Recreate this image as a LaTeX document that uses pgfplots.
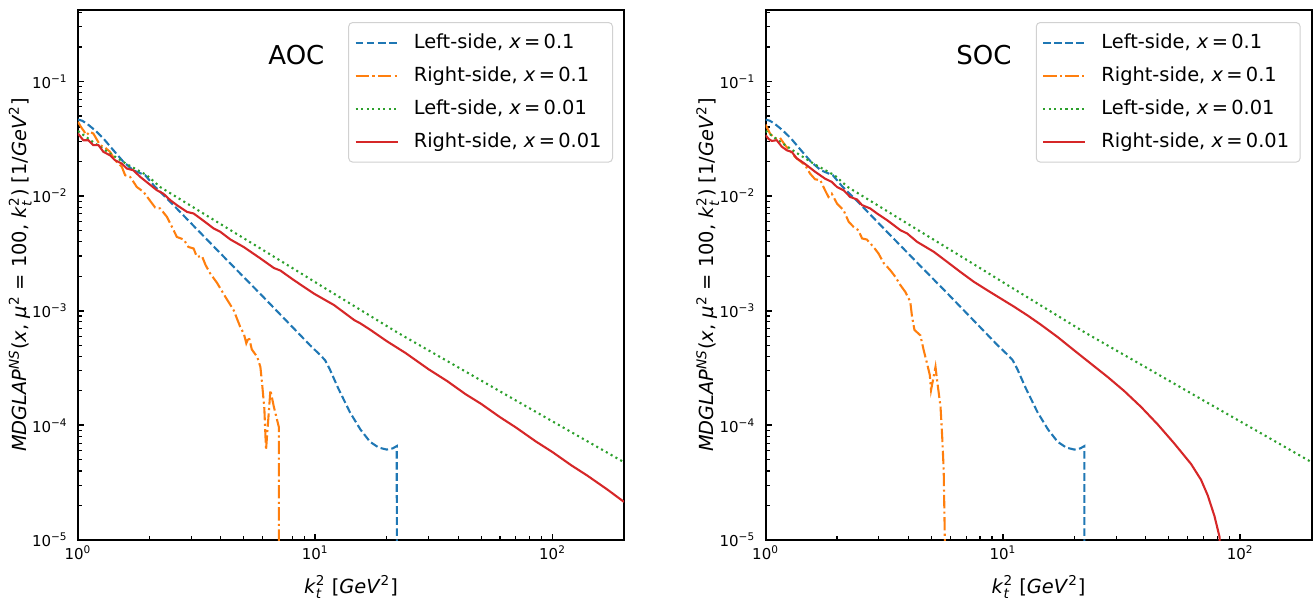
\documentclass[border=0pt]{standalone}
\usepackage{fontspec}
\setmainfont{DejaVu Sans}
\usepackage{amsmath}
\usepackage{pgfplots}
\usepackage{pgfplotstable}
\pgfplotsset{compat=1.18}

\definecolor{c0}{HTML}{1F77B4}
\definecolor{c1}{HTML}{FF7F0E}
\definecolor{c2}{HTML}{2CA02C}
\definecolor{c3}{HTML}{D62728}

% left-side, x=0.1 (same in both panels)
\pgfplotstableread{
x y
1.0 0.0465
1.04 0.0455
1.088 0.043
1.18 0.0375
1.28 0.0318
1.41 0.0251
1.554 0.0199
1.71 0.0168
1.92 0.0152
2.1 0.0122
2.45 0.0089
3.07 0.0055
4.25 0.00276
5.87 0.0014
8.12 0.0007
9.5 0.0005
10.5 0.00041
11.0 0.00037
11.5 0.00031
12.5 0.00021
14.0 0.00013
15.5 0.000092
17.0 0.000072
18.5 0.000064
20.0 0.0000615
21.2 0.000063
22.05 0.000066
22.06 0.000001
}\leftA

% left-side, x=0.01 (same in both panels)
\pgfplotstableread{
x y
1.0 0.037
1.16 0.0295
1.365 0.0235
1.606 0.019
1.95 0.0152
2.22 0.012
3.0 0.00819
4.25 0.00526
6.0 0.0034
8.0 0.00236
10.53 0.00166
15.0 0.00106
22.2 0.000645
40 0.000321
70 0.000165
120 0.0000873
200 0.0000477
}\leftB

% AOC right-side, x=0.1
\pgfplotstableread{
x y
1.0 0.0444
1.03 0.040
1.088 0.034
1.12 0.0365
1.161 0.0351
1.239 0.0278
1.30 0.0265
1.365 0.0243
1.433 0.0206
1.53 0.018
1.58 0.0152
1.659 0.0147
1.77 0.012
1.888 0.0109
1.98 0.00953
2.115 0.00794
2.22 0.0078
2.37 0.00659
2.49 0.00538
2.61 0.0044
2.79 0.00418
2.92 0.0036
3.07 0.00349
3.17 0.00295
3.33 0.00300
3.45 0.0025
3.61 0.00211
3.855 0.00175
4.18 0.00132
4.53 0.00101
4.83 0.00072
5.0 0.00063
5.12 0.00052
5.25 0.00059
5.4 0.00046
5.69 0.000396
5.87 0.000324
5.97 0.00023
6.1 0.00014
6.2 0.000061
6.47 0.000203
6.69 0.000145
7.02 0.000097
7.03 0.000001
}\aocA

% AOC right-side, x=0.01
\pgfplotstableread{
x y
1.0 0.0351
1.053 0.0307
1.105 0.0307
1.16 0.0278
1.22 0.0278
1.28 0.0243
1.365 0.0227
1.43 0.0206
1.53 0.0192
1.606 0.0174
1.71 0.0168
1.83 0.0147
1.98 0.0129
2.15 0.01125
2.29 0.0105
2.45 0.0092
2.61 0.00834
2.88 0.00728
3.07 0.00705
3.28 0.00638
3.50 0.00577
3.73 0.00522
3.98 0.00488
4.39 0.00418
4.99 0.0036
5.87 0.00286
6.69 0.00236
7.13 0.00224
8.12 0.00185
9.87 0.00141
12.0 0.00112
14.6 0.000828
15.5 0.000775
17 0.000685
20 0.000543
24 0.000428
30 0.000309
36 0.000243
43 0.000187
50 0.000154
60 0.000118
70 0.000096
85 0.0000724
100 0.0000584
120 0.0000448
140 0.0000365
170 0.0000276
200 0.0000215
}\aocB

% SOC right-side, x=0.1
\pgfplotstableread{
x y
1.0 0.042
1.044 0.0351
1.096 0.0318
1.15 0.0322
1.208 0.0278
1.33 0.022
1.467 0.0186
1.54 0.0157
1.617 0.014
1.70 0.0138
1.78 0.01125
1.84 0.00984
1.90 0.0105
2.0 0.0086
2.13 0.00754
2.24 0.00596
2.35 0.00538
2.46 0.00504
2.55 0.00427
2.67 0.00418
2.85 0.0036
2.99 0.00316
3.14 0.00262
3.35 0.00226
3.52 0.00198
3.70 0.00167
3.88 0.00146
4.07 0.0012
4.14 0.00089
4.24 0.00068
4.49 0.00061
4.64 0.00045
4.79 0.000347
4.92 0.000275
4.98 0.000203
5.2 0.000324
5.28 0.000248
5.46 0.000145
5.55 0.000079
5.63 0.000041
5.69 0.0000107
5.70 0.000001
}\socA

% SOC right-side, x=0.01
\pgfplotstableread{
x y
1.0 0.034
1.03 0.0315
1.061 0.0303
1.114 0.0307
1.17 0.027
1.228 0.0251
1.289 0.0243
1.353 0.0213
1.42 0.0200
1.49 0.0186
1.617 0.0163
1.78 0.0142
1.90 0.0133
2.0 0.012
2.13 0.01125
2.27 0.00984
2.43 0.00933
2.55 0.00834
2.76 0.0078
2.95 0.00705
3.25 0.00617
3.70 0.00504
3.95 0.00472
4.35 0.00399
5.11 0.00327
5.82 0.00267
6.62 0.00218
7.54 0.00179
8.59 0.00151
9.78 0.00128
11.1 0.00109
12.7 0.00091
14.4 0.00076
17.0 0.00059
20.0 0.00045
23.5 0.000345
27.6 0.000265
32.4 0.0002
38.2 0.000145
44.9 0.000102
52.7 0.0000697
62.1 0.000046
68.4 0.0000335
73.0 0.0000245
77.9 0.0000162
81.8 0.0000107
83.0 0.000005
}\socB

\tikzset{
  lblue/.style={c0, line width=1.04pt, dash pattern=on 3.85pt off 1.67pt},
  lorange/.style={c1, line width=1.04pt, dash pattern=on 6.67pt off 1.67pt on 1.04pt off 1.67pt},
  lgreen/.style={c2, line width=1.04pt, dash pattern=on 1.04pt off 1.72pt},
  lred/.style={c3, line width=1.04pt},
}

\pgfplotsset{
  every axis/.append style={
    scale only axis, width=273pt, height=265pt,
    xmin=1, xmax=200, ymin=1e-5, ymax=0.42,
    axis line style={line width=1pt},
    xtick={1,10,100},
    xticklabels={10\textsuperscript{0},10\textsuperscript{1},10\textsuperscript{2}},
    minor xtick={2,3,4,5,6,7,8,9,20,30,40,50,60,70,80,90},
    ytick={1e-5,1e-4,1e-3,1e-2,1e-1},
    yticklabels={10\textsuperscript{−5},10\textsuperscript{−4},10\textsuperscript{−3},10\textsuperscript{−2},10\textsuperscript{−1}},
    minor ytick={2e-5,3e-5,4e-5,5e-5,6e-5,7e-5,8e-5,9e-5,2e-4,3e-4,4e-4,5e-4,6e-4,7e-4,8e-4,9e-4,2e-3,3e-3,4e-3,5e-3,6e-3,7e-3,8e-3,9e-3,2e-2,3e-2,4e-2,5e-2,6e-2,7e-2,8e-2,9e-2,0.2,0.3,0.4},
    xtick pos=left, ytick pos=left, tick align=inside,
    major tick length=3.2pt, minor tick length=2pt,
    every major tick/.append style={line width=0.9pt, black},
    every minor tick/.append style={line width=0.6pt, black},
    tick label style={font=\fontsize{7.5}{9}\selectfont},
    xticklabel style={inner sep=0pt, yshift=-2.5pt},
    yticklabel style={inner sep=0pt, xshift=-5pt},
    label style={font=\fontsize{9.7}{11}\selectfont, inner sep=0pt},
    xlabel style={at={(axis description cs:0.5,-0.089)}, anchor=center},
    ylabel style={at={(axis description cs:-0.106,0.5)}, anchor=center},
    legend cell align=left,
    legend style={at={(1,1)}, anchor=north east, xshift=-5.5pt, yshift=-6pt,
      draw=black!18, line width=0.5pt, rounded corners=2pt, fill=white,
      font=\fontsize{9.7}{11.5}\selectfont, inner xsep=3pt, inner ysep=5pt,
      row sep=6.2pt, column sep=5pt,
      nodes={inner ysep=0pt, inner xsep=2.5pt, text height=8pt, text depth=2.3pt}},
    legend image code/.code={\draw[#1] (0pt,0pt) -- (21pt,0pt);},
  },
}

\begin{document}
\begin{tikzpicture}
\useasboundingbox (-39pt,-30pt) rectangle (619pt,270pt);

\begin{loglogaxis}[at={(0pt,0pt)}, anchor=south west,
  xlabel={\textit{k}$^{\textrm{2}}_{\textit{t}}$ [\textit{GeV}$^{\textrm{2}}$]},
  ylabel={\textit{MDGLAP}$^{\textit{NS}}$(\textit{x}, \textit{μ}$^{\textrm{2}}$ = 100, \textit{k}$^{\textrm{2}}_{\textit{t}}$) [1/\textit{GeV}$^{\textrm{2}}$]}]
  \addplot[lblue] table {\leftA};
  \addlegendentry{Left-side, \textit{x}\,=\,0.1}
  \addplot[lorange] table {\aocA};
  \addlegendentry{Right-side, \textit{x}\,=\,0.1}
  \addplot[lgreen] table {\leftB};
  \addlegendentry{Left-side, \textit{x}\,=\,0.01}
  \addplot[lred] table {\aocB};
  \addlegendentry{Right-side, \textit{x}\,=\,0.01}
  \node[font=\fontsize{13}{15}\selectfont] at (rel axis cs:0.4,0.915) {AOC};
\end{loglogaxis}

\begin{loglogaxis}[at={(343.8pt,0pt)}, anchor=south west,
  xlabel={\textit{k}$^{\textrm{2}}_{\textit{t}}$ [\textit{GeV}$^{\textrm{2}}$]},
  ylabel={\textit{MDGLAP}$^{\textit{NS}}$(\textit{x}, \textit{μ}$^{\textrm{2}}$ = 100, \textit{k}$^{\textrm{2}}_{\textit{t}}$) [1/\textit{GeV}$^{\textrm{2}}$]}]
  \addplot[lblue] table {\leftA};
  \addlegendentry{Left-side, \textit{x}\,=\,0.1}
  \addplot[lorange] table {\socA};
  \addlegendentry{Right-side, \textit{x}\,=\,0.1}
  \addplot[lgreen] table {\leftB};
  \addlegendentry{Left-side, \textit{x}\,=\,0.01}
  \addplot[lred] table {\socB};
  \addlegendentry{Right-side, \textit{x}\,=\,0.01}
  \node[font=\fontsize{13}{15}\selectfont] at (rel axis cs:0.4,0.915) {SOC};
\end{loglogaxis}
\end{tikzpicture}
\end{document}
